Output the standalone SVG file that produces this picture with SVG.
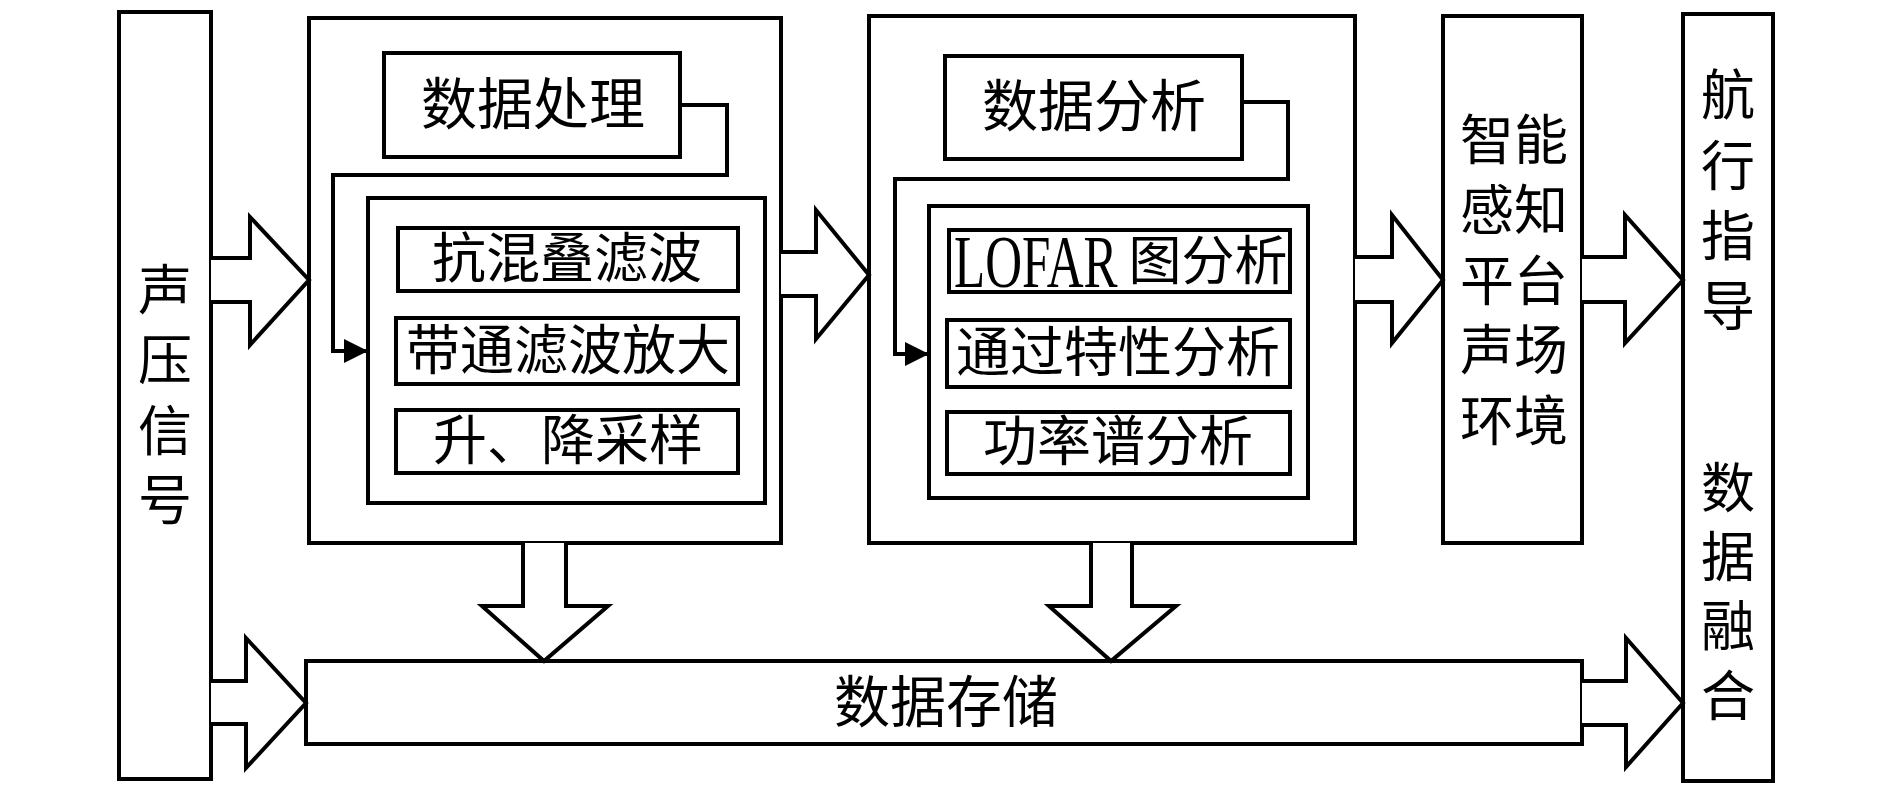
<svg xmlns="http://www.w3.org/2000/svg" width="1890" height="794" viewBox="0 0 1890 794">
<style>
.box{fill:#fff;stroke:#000;stroke-width:4;stroke-linejoin:miter}
.blk{fill:#fff;stroke:#000;stroke-width:4;stroke-linejoin:miter}
.ln{fill:none;stroke:#000;stroke-width:4}
.t{font-family:"Liberation Serif","Noto Sans CJK SC",serif;font-size:54px;fill:#000;text-anchor:middle;dominant-baseline:central}
.lat{font-family:"Liberation Serif",serif;fill:#000;dominant-baseline:central}
</style>
<defs>
<marker id="ah" markerUnits="userSpaceOnUse" markerWidth="24" markerHeight="24" viewBox="0 0 22 22" refX="22" refY="11" orient="auto">
<path d="M0,0 L22,11 L0,22 Z" fill="#000"/>
</marker>
</defs>
<rect width="1890" height="794" fill="#fff"/>
<g id="n-signal">
<rect class="box" x="119" y="12" width="92" height="767"/>
<text class="t" x="165" y="292">声</text>
<text class="t" x="165" y="362">压</text>
<text class="t" x="165" y="433">信</text>
<text class="t" x="165" y="502">号</text>
</g>
<g id="n-process">
<rect class="box" x="309" y="18" width="472" height="525"/>
<rect class="box" x="384" y="53" width="296" height="104"/>
<text class="t" x="533" y="105" style="font-size:56px">数据处理</text>
<rect class="box" x="368" y="198" width="397" height="305"/>
<rect class="box" x="398" y="228" width="340" height="63"/>
<text class="t" x="567" y="260">抗混叠滤波</text>
<rect class="box" x="396" y="318" width="342" height="66"/>
<text class="t" x="568" y="352">带通滤波放大</text>
<rect class="box" x="396" y="410" width="342" height="63"/>
<text class="t" x="568" y="442">升、降采样</text>
</g>
<g id="n-analysis">
<rect class="box" x="869" y="16" width="486" height="527"/>
<rect class="box" x="945" y="56" width="297" height="103"/>
<text class="t" x="1094" y="107" style="font-size:56px">数据分析</text>
<rect class="box" x="929" y="206" width="379" height="292"/>
<rect class="box" x="949" y="230" width="341" height="62"/>
<text class="lat" transform="translate(954,262) scale(0.69,1)" font-size="74">LOFAR</text>
<text class="t" x="1208" y="262" style="font-size:53px">图分析</text>
<rect class="box" x="947" y="320" width="343" height="67"/>
<text class="t" x="1118" y="354">通过特性分析</text>
<rect class="box" x="947" y="412" width="343" height="62"/>
<text class="t" x="1118" y="443">功率谱分析</text>
</g>
<g id="n-env">
<rect class="box" x="1443" y="16" width="139" height="527"/>
<text class="t" x="1514" y="142">智能</text>
<text class="t" x="1514" y="212">感知</text>
<text class="t" x="1514" y="283">平台</text>
<text class="t" x="1514" y="352">声场</text>
<text class="t" x="1514" y="423">环境</text>
</g>
<g id="n-nav">
<rect class="box" x="1683" y="14" width="90" height="767"/>
<text class="t" x="1728" y="97">航</text>
<text class="t" x="1728" y="168">行</text>
<text class="t" x="1728" y="238">指</text>
<text class="t" x="1728" y="308">导</text>
<text class="t" x="1728" y="490">数</text>
<text class="t" x="1728" y="559">据</text>
<text class="t" x="1728" y="628">融</text>
<text class="t" x="1728" y="698">合</text>
</g>
<g id="n-storage">
<rect class="box" x="306" y="661" width="1276" height="83"/>
<text class="t" x="946" y="703" style="font-size:56px">数据存储</text>
</g>
<g id="connectors">
<path class="ln" d="M680,105 H727 V175 H333 V351 H368" marker-end="url(#ah)"/>
<path class="ln" d="M1242,102 H1288 V179 H895 V354 H929" marker-end="url(#ah)"/>
<path class="blk" d="M211,258 H250 V217 L309,280 L250,345 V302 H211"/>
<path class="blk" d="M781,252 H816 V210 L869,275 L816,339 V296 H781"/>
<path class="blk" d="M1355,257 H1392 V215 L1443,280 L1392,343 V302 H1355"/>
<path class="blk" d="M1582,257 H1625 V215 L1683,280 L1625,343 V302 H1582"/>
<path class="blk" d="M211,681 H246 V638 L306,703 L246,768 V724 H211"/>
<path class="blk" d="M1582,681 H1626 V638 L1683,703 L1626,767 V725 H1582"/>
<path class="blk" d="M523,543 V606 H482 L544,661 L608,606 H566 V543"/>
<path class="blk" d="M1091,543 V606 H1049 L1111,661 L1176,606 H1132 V543"/>
</g>
</svg>
